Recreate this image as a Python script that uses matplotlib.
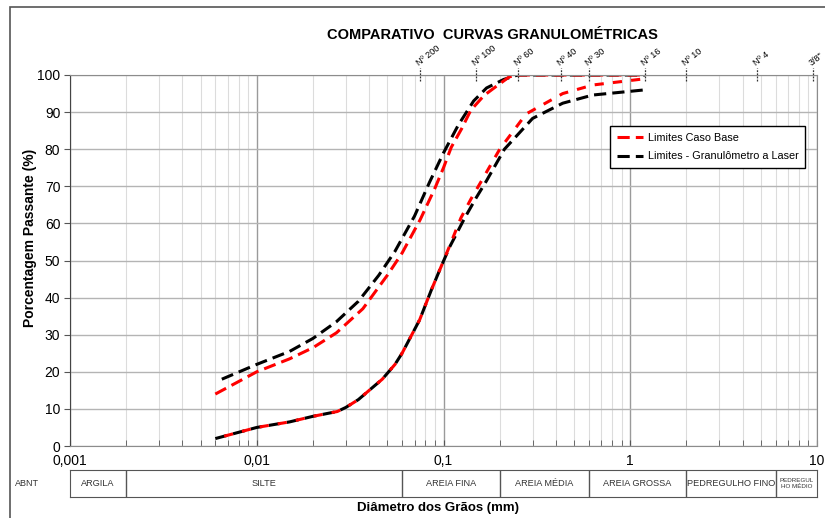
import matplotlib
matplotlib.use("Agg")
import matplotlib.pyplot as plt
import matplotlib.ticker as mticker
from matplotlib.patches import Rectangle
import numpy as np

plt.rcParams['font.family'] = ['Liberation Sans', 'DejaVu Sans']

# Limites Caso Base (red)
base_sup_x = [0.006, 0.01, 0.015, 0.02, 0.0267, 0.037, 0.05, 0.06, 0.075, 0.09, 0.1, 0.11,
              0.125, 0.14, 0.165, 0.19, 0.225, 0.25, 0.5, 1.2]
base_sup_y = [14, 20, 23.5, 26.5, 30.5, 37, 46, 52, 61, 69.5, 75, 80.5,
              85.5, 90.5, 94.5, 96.8, 99.5, 100, 100, 100]
base_inf_x = [0.006, 0.01, 0.015, 0.02, 0.027, 0.03, 0.035, 0.04, 0.047, 0.055, 0.06, 0.0745,
              0.086, 0.097, 0.108, 0.124, 0.14, 0.16, 0.2, 0.277, 0.435, 0.63, 1.2]
base_inf_y = [2, 5, 6.5, 8, 9.3, 10.4, 12.5, 15, 18, 22, 25, 34,
              42, 48.3, 54, 61.5, 66.5, 71.5, 80, 89.5, 95, 97.3, 99]

# Limites - Granulometro a Laser (black)
laser_sup_x = [0.0065, 0.01, 0.015, 0.02, 0.0267, 0.035, 0.045, 0.055, 0.07, 0.084, 0.1,
               0.12, 0.145, 0.17, 0.21, 0.25, 0.5, 1.2]
laser_sup_y = [18, 22, 25.5, 29, 33.5, 39, 46, 52.5, 62, 71, 79,
               86.5, 93, 96.5, 98.8, 100, 100, 100]
laser_inf_x = [0.006, 0.01, 0.015, 0.02, 0.027, 0.03, 0.035, 0.04, 0.047, 0.055, 0.06, 0.0745,
               0.086, 0.097, 0.108, 0.13, 0.15, 0.17, 0.212, 0.3, 0.435, 0.63, 1.2]
laser_inf_y = [2, 5, 6.5, 8, 9.3, 10.4, 12.5, 15, 18, 22, 25, 34,
               42, 48.3, 53.7, 61.5, 67, 71.5, 80, 88.3, 92.4, 94.6, 96]

# peneiras (top axis)
sieve_labels = ["Nº 200", "Nº 100", "Nº 60", "Nº 40", "Nº 30", "Nº 16", "Nº 10", "Nº 4", '3/8"']
sieve_sizes = [0.075, 0.15, 0.25, 0.425, 0.6, 1.2, 2.0, 4.8, 9.5]

# ABNT classes
class_names = ["ARGILA", "SILTE", "AREIA FINA", "AREIA MÉDIA", "AREIA GROSSA",
               "PEDREGULHO FINO", "PEDREGUL\nHO MÉDIO"]
class_edges = [0.001, 0.002, 0.06, 0.2, 0.6, 2.0, 6.0, 10.0]

fig = plt.figure(figsize=(8.25, 5.18), dpi=100)
ax = fig.add_axes([70/825, 1-446/518, 747/825, 371/518])

ax.set_xscale('log')
ax.set_xlim(0.001, 10)
ax.set_ylim(0, 100)

ax.xaxis.set_major_locator(mticker.LogLocator(base=10, numticks=10))
ax.xaxis.set_minor_locator(mticker.LogLocator(base=10, subs=np.arange(2, 10), numticks=10))
ax.xaxis.set_major_formatter(mticker.FuncFormatter(lambda v, p: ('%g' % v).replace('.', ',')))
ax.xaxis.set_minor_formatter(mticker.NullFormatter())
ax.set_yticks(np.arange(0, 101, 10))

ax.grid(True, which='major', axis='x', color='#9a9a9a', lw=1.0)
ax.grid(True, which='minor', axis='x', color='#dcdcdc', lw=0.8)
ax.grid(True, which='major', axis='y', color='#b4b4b4', lw=1.0)
ax.set_axisbelow(True)

ax.tick_params(axis='x', which='both', direction='in', length=4, color='#555', labelsize=10, pad=6)
ax.tick_params(axis='y', direction='out', length=4, color='#555', labelsize=10, pad=3)
for s in ax.spines.values():
    s.set_color('#8c8c8c')
ax.spines['left'].set_color('#444')

dash = (0, (4, 2))
lw = 2.2
ax.plot(laser_sup_x, laser_sup_y, color='black', lw=lw, linestyle=dash, label='Limites - Granulômetro a Laser')
ax.plot(laser_inf_x, laser_inf_y, color='black', lw=lw, linestyle=dash)
ax.plot(base_sup_x, base_sup_y, color='#ff0000', lw=lw, linestyle=dash, label='Limites Caso Base')
ax.plot(base_inf_x, base_inf_y, color='#ff0000', lw=lw, linestyle=(3, (3, 3)))

h, l = ax.get_legend_handles_labels()
leg = ax.legend(h[::-1], l[::-1], loc='upper left', bbox_to_anchor=(0.723, 0.862),
                borderaxespad=0, fontsize=7.8, fancybox=False, edgecolor='black', framealpha=1,
                handlelength=2.4, handletextpad=0.5, borderpad=0.6, labelspacing=0.8)
leg.get_frame().set_linewidth(1.0)

# sieve markers on top
for lab, s in zip(sieve_labels, sieve_sizes):
    ax.plot([s, s], [0.985, 1.018], color='#333', lw=0.9, linestyle=(0, (1.5, 1)),
            transform=ax.get_xaxis_transform(), clip_on=False)
    ax.text(s, 1.02, lab, transform=ax.get_xaxis_transform(), rotation=38,
            fontsize=6.5, ha='left', va='bottom', rotation_mode='anchor')

# ABNT classification bar
bx = fig.add_axes([70/825, 1-497/518, 747/825, 27/518])
bx.set_xscale('log')
bx.set_xlim(0.001, 10)
bx.set_ylim(0, 1)
bx.set_xticks([])
bx.set_yticks([])
bx.minorticks_off()
for s in bx.spines.values():
    s.set_color('#555')
for e in class_edges[1:-1]:
    bx.axvline(e, color='#555', lw=1)
for i, name in enumerate(class_names):
    xc = np.sqrt(class_edges[i] * class_edges[i + 1])
    fs = 4.5 if '\n' in name else 6.6
    bx.text(xc, 0.5, name, ha='center', va='center', fontsize=fs, color='#333')
fig.text(27/825, 1-483/518, "ABNT", ha='center', va='center', fontsize=6.5, color='#333')

fig.text(492/825, 1-35/518, "COMPARATIVO  CURVAS GRANULOMÉTRICAS", ha='center', va='center',
         fontsize=10.5, fontweight='bold')
fig.text(30/825, 1-238/518, "Porcentagem Passante (%)", rotation=90, ha='center', va='center',
         fontsize=10, fontweight='bold')
fig.text(438/825, 1-508/518, "Diâmetro dos Grãos (mm)", ha='center', va='center',
         fontsize=9.5, fontweight='bold')

fig.patches.append(Rectangle((10/825, -0.05), 1.2, (518-7)/518 + 0.05, transform=fig.transFigure,
                             fill=False, edgecolor='#555', lw=1.2))

fig.savefig('out.png', dpi=100)
